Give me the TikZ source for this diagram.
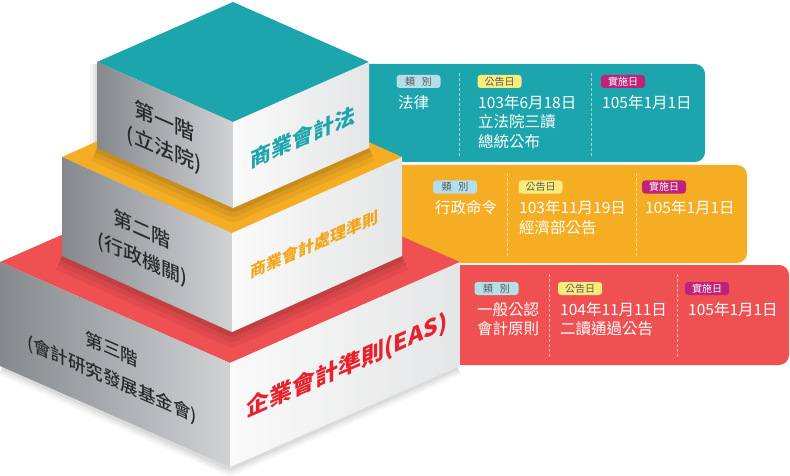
\documentclass[tikz,border=0pt]{standalone}
\usepackage{fontspec}
\newfontfamily\cjk{Noto Sans CJK TC}
\newfontfamily\cjkm{Noto Sans CJK TC Medium}
\definecolor{teal1}{HTML}{1DA5AD}
\definecolor{org1}{HTML}{F5AD23}
\definecolor{red1}{HTML}{EF5052}
\definecolor{redtxt}{HTML}{E8222C}
\definecolor{orgtxt}{HTML}{F2A516}
\definecolor{bblue}{HTML}{B4DEEA}
\definecolor{byel}{HTML}{F8EC7C}
\definecolor{bmag}{HTML}{C0217A}
\definecolor{facedark}{HTML}{86898C}
\definecolor{facelight}{HTML}{D0D2D4}
\definecolor{wlight}{HTML}{FAFAFA}
\definecolor{wdark}{HTML}{E4E5E6}
\definecolor{lbl}{HTML}{2A2A2A}
\definecolor{bdk}{HTML}{555555}
\tikzset{
  panelbox/.style={rounded corners=10pt},
  badge/.style={rounded corners=3pt, inner sep=0pt, minimum height=13pt, minimum width=44pt,
    font=\cjk\fontsize{10}{10}\selectfont},
  ptxt/.style={anchor=base west, inner sep=0pt, text=white, font=\cjk\fontsize{15.5}{15.5}\selectfont},
  divl/.style={white, opacity=0.55, dash pattern=on 3pt off 2pt, line width=0.7pt},
  leftface/.style={left color=facedark, right color=facelight},
  rightface/.style={left color=wlight, right color=wdark},
  lefttxt/.style={yslant=-0.44, align=center, text=lbl, inner sep=0pt},
  righttxt/.style={yslant=0.44, inner sep=0pt},
}
\begin{document}
\begin{tikzpicture}[x=1pt,y=-1pt]
\useasboundingbox (0,0) rectangle (790,476);
% ---------- panels ----------
\path[fill=red1, panelbox] (380,265) rectangle (789,365);
\path[fill=org1, panelbox] (330,165) rectangle (747,263);
\path[fill=teal1, panelbox] (300,64) rectangle (705,162);

% teal panel content
\node[badge, fill=bblue, text=bdk] (b1a) at (418.5,81.5) {類\hspace{0.7em}別};
\node[badge, fill=byel, text=bdk] (b1b) at (499.5,81.5) {公告日};
\node[badge, fill=bmag, text=white] (b1c) at (623,81.5) {實施日};
\draw[divl] (459,73) -- (459,157);
\draw[divl] (591,73) -- (591,157);
\node[ptxt] (t1a) at (398,108.5) {法律};
\node[ptxt] (t1b) at (478,108.5) {103年6月18日};
\node[ptxt] (t1c) at (478,128) {立法院三讀};
\node[ptxt] (t1d) at (478,147.5) {總統公布};
\node[ptxt] (t1e) at (602,108.5) {105年1月1日};

% orange panel content
\node[badge, fill=bblue, text=bdk] (b2a) at (455,187) {類\hspace{0.7em}別};
\node[badge, fill=byel, text=bdk] (b2b) at (540.5,187) {公告日};
\node[badge, fill=bmag, text=white] (b2c) at (664,187) {實施日};
\draw[divl] (507,173) -- (507,258);
\draw[divl] (636,173) -- (636,258);
\node[ptxt] (t2a) at (435,213.5) {行政命令};
\node[ptxt] (t2b) at (519,213.5) {103年11月19日};
\node[ptxt] (t2c) at (519,233) {經濟部公告};
\node[ptxt] (t2e) at (645,213.5) {105年1月1日};

% red panel content
\node[badge, fill=bblue, text=bdk] (b3a) at (496.5,288.5) {類\hspace{0.7em}別};
\node[badge, fill=byel, text=bdk] (b3b) at (580,288.5) {公告日};
\node[badge, fill=bmag, text=white] (b3c) at (707,288.5) {實施日};
\draw[divl] (549,274) -- (549,358);
\draw[divl] (677,274) -- (677,358);
\node[ptxt] (t3a) at (477,315.5) {一般公認};
\node[ptxt] (t3b) at (477,334) {會計原則};
\node[ptxt] (t3c) at (560,315.5) {104年11月11日};
\node[ptxt] (t3d) at (560,334) {二讀通過公告};
\node[ptxt] (t3e) at (688,315.5) {105年1月1日};

% ---------- soft shadows ----------
\foreach \w/\o in {14/0.04,9/0.05,4/0.06}{
  \draw[black, opacity=\o, line width=\w pt, line join=round] (2,368) -- (230,469) -- (458,368);
  \draw[black, opacity=\o, line width=\w pt] (97,64) -- (97,146);
}

% ---------- level 3 ----------
\path[fill=red1] (0,262) -- (230,161) -- (460,262) -- (230,363) -- cycle;
\begin{scope}
  \clip (0,262) -- (230,161) -- (460,262) -- (230,363) -- cycle;
  \foreach \w/\o in {30/0.05,20/0.06,10/0.08}{
    \draw[black, opacity=\o, line width=\w pt, line join=round] (62,256) -- (232,332) -- (402,256);
  }
\end{scope}
\path[leftface] (0,262) -- (230,363) -- (230,467) -- (0,366) -- cycle;
\path[rightface] (230,363) -- (460,262) -- (460,366) -- (230,467) -- cycle;

% ---------- level 2 ----------
\path[fill=org1] (62,157) -- (232,81) -- (402,157) -- (232,233) -- cycle;
\begin{scope}
  \clip (62,157) -- (232,81) -- (402,157) -- (232,233) -- cycle;
  \foreach \w/\o in {28/0.05,18/0.06,9/0.08}{
    \draw[black, opacity=\o, line width=\w pt, line join=round] (97,148) -- (233,208) -- (369,148);
  }
\end{scope}
\path[leftface] (62,157) -- (232,233) -- (232,332) -- (62,256) -- cycle;
\path[rightface] (232,233) -- (402,157) -- (402,256) -- (232,332) -- cycle;

% ---------- level 1 ----------
\path[fill=teal1] (97,62) -- (233,2) -- (369,62) -- (233,122) -- cycle;
\path[leftface] (97,62) -- (233,122) -- (233,208) -- (97,148) -- cycle;
\path[rightface] (233,122) -- (369,62) -- (369,148) -- (233,208) -- cycle;

% ---------- block texts ----------
\node[lefttxt, font=\cjkm\fontsize{20}{28}\selectfont] (l1) at (164,136) {第一階\\(立法院)};
\node[righttxt, text=teal1, font=\cjk\bfseries\fontsize{21}{21}\selectfont] (r1) at (303,137) {商業會計法};

\node[lefttxt, font=\cjkm\fontsize{19}{30}\selectfont] (l2) at (142,245) {第二階\\(行政機關)};
\node[righttxt, text=orgtxt, font=\cjk\bfseries\fontsize{16}{16}\selectfont] (r2) at (314,244) {商業會計處理準則};

\node[lefttxt, font=\cjkm\fontsize{17.5}{30}\selectfont] (l3) at (112,365) {第三階\\(會計研究發展基金會)};
\node[righttxt, text=redtxt, font=\cjk\bfseries\fontsize{23}{23}\selectfont] (r3) at (347,366) {企業會計準則(EAS)};
\end{tikzpicture}
\end{document}
